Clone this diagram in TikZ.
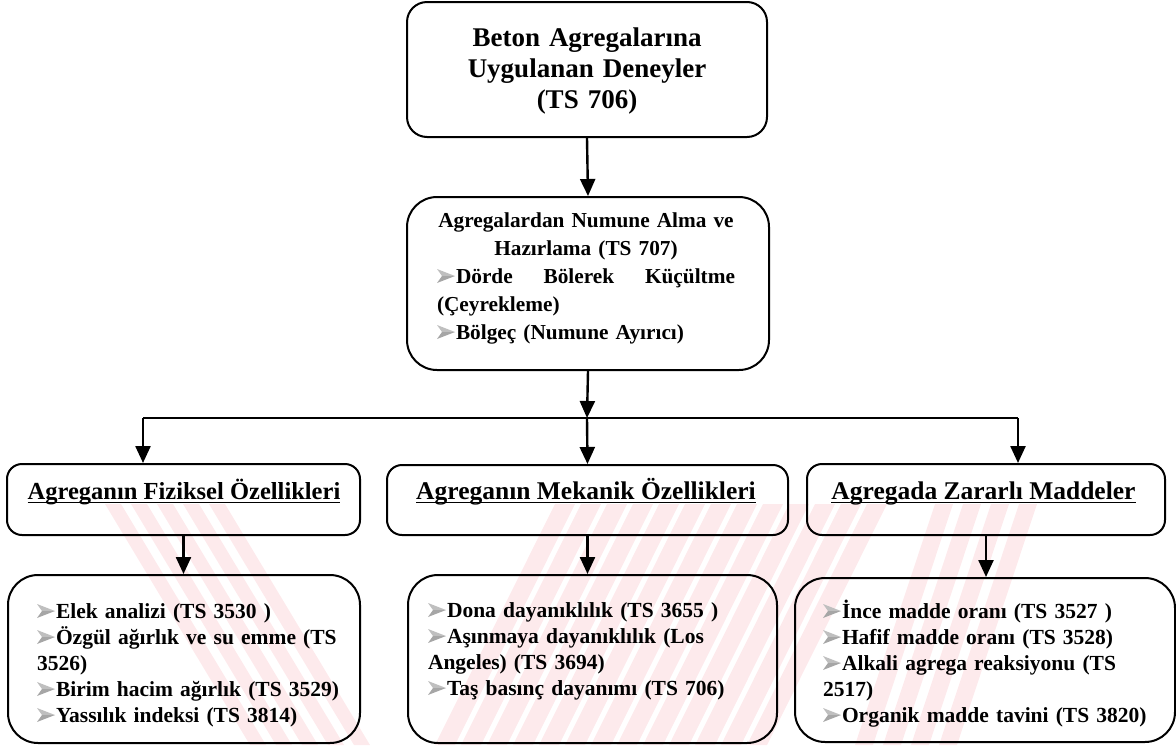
\documentclass[tikz,border=0pt]{standalone}
\usepackage{fontspec}
\setmainfont{Liberation Serif}
\usetikzlibrary{arrows.meta}
\definecolor{wm}{RGB}{253,234,236}
% shaded arrowhead bullet
\newcommand\bul{\tikz[baseline=0pt]{%
  \fill[gray!50] (0pt,14pt) -- (18pt,7pt) -- (5pt,7pt) -- cycle;
  \fill[gray!70] (5pt,7pt) -- (18pt,7pt) -- (0pt,0pt) -- cycle;}\hspace{1pt}}
\newcommand\ftop{\fontsize{27}{31}\selectfont\bfseries}
\newcommand\fmid{\fontsize{21.3}{28}\selectfont\bfseries}
\newcommand\fbot{\fontsize{21.5}{26}\selectfont\bfseries}
\begin{document}
\begin{tikzpicture}[x=1pt,y=-1pt,
  box/.style={draw, line width=2pt, rounded corners=#1, inner sep=0pt},
  txt/.style={inner sep=0pt, outer sep=0pt},
  arr/.style={line width=2.4pt, -{Triangle[length=17pt,width=15pt]}},
  link/.style={line width=2.4pt}]
\useasboundingbox (0,0) rectangle (1176,745);

% background watermark bands
\begin{scope}
  \clip (0,504) rectangle (1176,745);
  \foreach \i in {0,...,4}
    \fill[wm] ({105+26*\i},504) -- ({121+26*\i},504) -- ({266+26*\i},745) -- ({250+26*\i},745) -- cycle;
  \foreach \i in {0,...,12}
    \fill[wm] ({555+26*\i},504) -- ({575+26*\i},504) -- ({455+26*\i},745) -- ({435+26*\i},745) -- cycle;
  \foreach \i in {0,...,3}
    \fill[wm] ({935+28*\i},504) -- ({953+28*\i},504) -- ({873+28*\i},745) -- ({855+28*\i},745) -- cycle;
\end{scope}

% boxes
\node[box=20pt, minimum width=360pt, minimum height=135pt] (top) at (587,69.5) {};
\node[box=30pt, minimum width=362pt, minimum height=173pt] (mid) at (588,283.5) {};
\node[box=15pt, minimum width=353pt, minimum height=71pt] (hL) at (183.5,499.5) {};
\node[box=15pt, minimum width=401pt, minimum height=70pt] (hM) at (587.5,500) {};
\node[box=15pt, minimum width=358pt, minimum height=71pt] (hR) at (986,499.5) {};
\node[box=30pt, minimum width=352pt, minimum height=168pt] (bL) at (184,659) {};
\node[box=30pt, minimum width=369pt, minimum height=168pt] (bM) at (592.5,659) {};
\node[box=30pt, minimum width=380pt, minimum height=164pt] (bR) at (985,660) {};

% texts
\node[txt, text width=360pt, align=center, font=\ftop, anchor=base] (tTop) at (587,46)
  {Beton Agregalarına\\Uygulanan Deneyler\\(TS 706)};
\node[txt, text width=298pt, font=\fmid, anchor=base west] (tMid) at (437,227)
  {\centering Agregalardan Numune Alma ve\\
   Hazırlama (TS 707)\par
   \raggedright
   \bul Dörde\hfill Bölerek\hfill Küçültme\\
   (Çeyrekleme)\\
   \bul Bölgeç (Numune Ayırıcı)\par};

\node[txt, font=\fontsize{24.5}{28}\selectfont\bfseries, anchor=base] (tHL) at (184,499) {Agreganın Fiziksel Özellikleri};
\node[txt, font=\fontsize{25.5}{28}\selectfont\bfseries, anchor=base] (tHM) at (586,499) {Agreganın Mekanik Özellikleri};
\node[txt, font=\fontsize{25.5}{28}\selectfont\bfseries, anchor=base] (tHR) at (983.5,499) {Agregada Zararlı Maddeler};
\foreach \t in {tHL,tHM,tHR}
  \draw[line width=1.6pt] ([yshift=-3.5pt]\t.base west) -- ([yshift=-3.5pt]\t.base east);

\node[txt, text width=330pt, align=left, font=\fbot, anchor=base west] (tBL) at (37,618)
  {\bul Elek analizi (TS 3530 )\\
   \bul Özgül ağırlık ve su emme (TS\\
   3526)\\
   \bul Birim hacim ağırlık (TS 3529)\\
   \bul Yassılık indeksi (TS 3814)};
\node[txt, text width=340pt, align=left, font=\fbot, anchor=base west] (tBM) at (428,617)
  {\bul Dona dayanıklılık (TS 3655 )\\
   \bul Aşınmaya dayanıklılık (Los\\
   Angeles) (TS 3694)\\
   \bul Taş basınç dayanımı (TS 706)};
\node[txt, text width=340pt, align=left, font=\fbot, anchor=base west] (tBR) at (823,618)
  {\bul İnce madde oranı (TS 3527 )\\
   \bul Hafif madde oranı (TS 3528)\\
   \bul Alkali agrega reaksiyonu (TS\\
   2517)\\
   \bul Organik madde tavini (TS 3820)};

% connectors
\coordinate (hub) at (587,418);
\coordinate (hubL) at (143,418);
\coordinate (hubR) at (1018,418);
\draw[arr] (top.south) -- (mid.north);
\draw[arr] (mid.south) -- (hub);
\draw[link] (hubL) -- (hubR);
\draw[arr] (hubL) -- (hubL |- hL.north);
\draw[arr] (hub) -- (hM.north);
\draw[arr] (hubR) -- (hubR |- hR.north);
\draw[arr] (hL.south) -- (hL.south |- bL.north);
\draw[arr] (hM.south) -- (hM.south |- bM.north);
\draw[arr] (hR.south) -- (hR.south |- bR.north);
\end{tikzpicture}
\end{document}
